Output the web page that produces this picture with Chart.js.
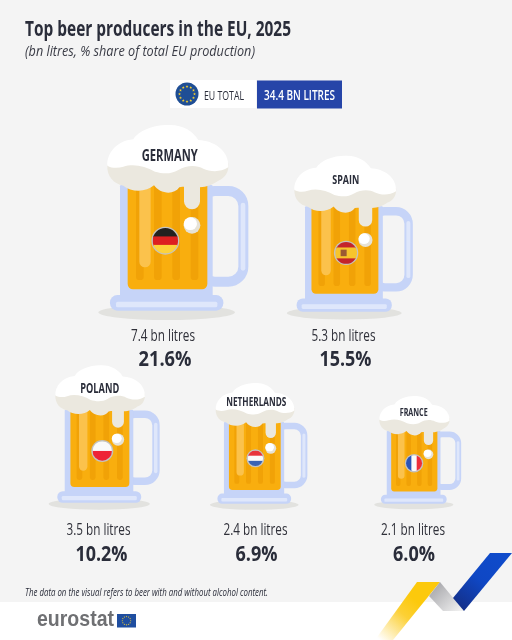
<!DOCTYPE html>
<html><head><meta charset="utf-8">
<style>html,body{margin:0;padding:0;background:#f4f4f4}canvas{display:block}</style>
<script src="https://cdn.jsdelivr.net/npm/chart.js@4/dist/chart.umd.min.js"></script>
</head><body><canvas id="c" width="512" height="640" style="width:512px;height:640px"></canvas>
<script>
// ---- data ----
const categories = ["GERMANY","SPAIN","POLAND","NETHERLANDS","FRANCE"];
const litres = [7.4,5.3,3.5,2.4,2.1];
const shares = [21.6,15.5,10.2,6.9,6.0];
const euTotal = 34.4;
// ---- layout (separate from the data) ----
const slotX = [167,344.5,99.5,254.5,414];
const slotY = [311,312,503,504,504];
const mugScale = [1,.84,.74,.65,.58];
const flagDX = [0,3,4,2,1];
const flagPx = [14,12.2,11,9,9.3];
const nameX = [169.7,345.7,99.7,256.3,413.7];
const nameY = [160.5,184,393,405.7,416];
const nameFont = [16,12.5,14,11.6,10.8];
const nameW = [56,27,39,60,28];
const labelDX = [-4,-1,-1,1,-1];
const labelY = [335,335,529,529,529];
const pctDX = [-2,1,2,2,0];
const pctY = [358,358,553,553,553];
const pctW = [53,52,52,42,42];
const FONT = '"Open Sans",sans-serif';

function star(ctx,x,y,r,col){ctx.fillStyle=col;ctx.beginPath();for(let i=0;i<10;i++){const a=-Math.PI/2+i*Math.PI/5,q=i%2?r*.42:r;ctx.lineTo(x+q*Math.cos(a),y+q*Math.sin(a));}ctx.closePath();ctx.fill();}
function ring(ctx,x,y,R,r){for(let i=0;i<12;i++){const a=i*Math.PI/6;star(ctx,x+R*Math.cos(a),y+R*Math.sin(a),r,'#f5cf2f');}}
function rr(ctx,x,y,w,h,r,col){ctx.fillStyle=col;ctx.beginPath();ctx.roundRect(x,y,w,h,r);ctx.fill();}
function text(ctx,t,x,y,font,col,align,maxW){ctx.font=font;ctx.fillStyle=col;ctx.textAlign=align||'left';ctx.textBaseline='alphabetic';if(maxW)ctx.fillText(t,x,y,maxW);else ctx.fillText(t,x,y);}

function flag(ctx,name,cx,cy,R){
  const r=R-1.3;
  ctx.save();ctx.beginPath();ctx.arc(cx,cy,R,0,7);ctx.fillStyle='#c4c3bf';ctx.fill();
  ctx.beginPath();ctx.arc(cx,cy,r,0,7);ctx.clip();
  const bands=(cols,ws,vert)=>{let p=vert?cx-r:cy-r;cols.forEach((c,i)=>{const d=2*r*ws[i];ctx.fillStyle=c;if(vert)ctx.fillRect(p,cy-r,d+1,2*r);else ctx.fillRect(cx-r,p,2*r,d+1);p+=d;});};
  if(name==='GERMANY')bands(['#23211f','#dd2020','#fdd23a'],[1/3,1/3,1/3]);
  if(name==='SPAIN'){bands(['#c4242b','#f7c52c','#c4242b'],[.25,.5,.25]);ctx.fillStyle='#9b5a33';ctx.fillRect(cx-r*.5,cy-r*.3,r*.55,r*.6);}
  if(name==='POLAND')bands(['#fafafa','#ee2436'],[.5,.5]);
  if(name==='NETHERLANDS')bands(['#e8343c','#fafafa','#3a63b4'],[1/3,1/3,1/3]);
  if(name==='FRANCE')bands(['#2a55b8','#fafafa','#ee2d3a'],[1/3,1/3,1/3],true);
  ctx.restore();
}

function drawMug(ctx,x,y,s){
  const k=s/3;
  ctx.save();ctx.translate(x,y);ctx.scale(k,k);ctx.translate(-231,-573);
  ctx.fillStyle='#e2e2df';ctx.beginPath();ctx.ellipse(230,577,205,23,0,0,7);ctx.fill();
  ctx.strokeStyle='#c6d4f8';ctx.lineWidth=30;ctx.beginPath();ctx.roundRect(330,213,130,272,45);ctx.stroke();
  ctx.strokeStyle='#dfe7fb';ctx.lineWidth=14;ctx.lineCap='round';ctx.beginPath();ctx.moveTo(459,255);ctx.lineTo(459,445);ctx.stroke();
  rr(ctx,90,195,278,340,4,'#c6d4f8');
  rr(ctx,60,525,340,47,22,'#c6d4f8');
  rr(ctx,78,545,304,17,5,'#dfe7fb');
  rr(ctx,113,195,239,313,[0,0,16,16],'#f9ae0e');
  for(const sx of [138,192,247,302])rr(ctx,sx,195,23,285,[0,0,10,10],'#f1a207');
  rr(ctx,148,190,34,252,17,'#fbc24c');
  rr(ctx,282,170,48,98,24,'#ebe8df');
  ctx.fillStyle='#e6e2d6';ctx.beginPath();ctx.arc(306,316,25,0,7);ctx.fill();
  ctx.fillStyle='#ffffff';ctx.beginPath();ctx.ellipse(301,311,20,19,0,0,7);ctx.fill();
  ctx.fillStyle='#ebe8df';ctx.beginPath();ctx.moveTo(52,135);
  ctx.bezierCurveTo(50,170,72,192,100,197);ctx.bezierCurveTo(125,218,170,216,192,196);
  ctx.bezierCurveTo(208,220,250,228,268,202);ctx.bezierCurveTo(300,195,340,215,385,182);
  ctx.bezierCurveTo(405,175,418,155,415,130);ctx.closePath();ctx.fill();
  ctx.fillStyle='#ffffff';ctx.beginPath();ctx.moveTo(52,137);
  ctx.bezierCurveTo(50,100,80,62,130,58);ctx.bezierCurveTo(145,30,200,12,240,15);
  ctx.bezierCurveTo(280,15,310,35,325,60);ctx.bezierCurveTo(370,62,418,90,415,142);
  ctx.bezierCurveTo(390,158,360,155,340,146);ctx.bezierCurveTo(320,135,290,135,265,150);
  ctx.bezierCurveTo(240,165,215,160,195,155);ctx.bezierCurveTo(165,138,130,130,100,140);
  ctx.bezierCurveTo(85,145,65,145,52,137);ctx.closePath();ctx.fill();
  ctx.restore();
}

function ribbon(ctx){
  let g=ctx.createLinearGradient(415,600,380,640);g.addColorStop(0,'#fcc90c');g.addColorStop(.35,'#fcd035');g.addColorStop(1,'#ffffff');
  ctx.fillStyle=g;ctx.beginPath();ctx.moveTo(417,582);ctx.lineTo(440,582);ctx.lineTo(393,640);ctx.lineTo(375,640);ctx.closePath();ctx.fill();
  g=ctx.createLinearGradient(435,585,460,611);g.addColorStop(0,'#a9a9ad');g.addColorStop(1,'#f0f0f0');
  ctx.fillStyle=g;ctx.beginPath();ctx.moveTo(440,582);ctx.lineTo(464,611);ctx.lineTo(443,611);ctx.lineTo(429,596);ctx.closePath();ctx.fill();
  g=ctx.createLinearGradient(458,606,500,553);g.addColorStop(0,'#14308a');g.addColorStop(.5,'#0f47c4');g.addColorStop(1,'#0f4bcb');
  ctx.fillStyle=g;ctx.beginPath();ctx.moveTo(453,598);ctx.lineTo(490,553);ctx.lineTo(512,553);ctx.lineTo(464,611);ctx.closePath();ctx.fill();
}

const infographic={id:'infographic',
 beforeDatasetsDraw(chart){
  const c=chart.ctx;
  c.fillStyle='#f4f4f4';c.fillRect(0,0,512,640);
  c.fillStyle='#ffffff';c.fillRect(0,602,512,38);
  text(c,'Top beer producers in the EU, 2025',25,36,'bold 21.5px '+FONT,'#2a2d3a','left',266);
  text(c,'(bn litres, % share of total EU production)',25,56,'italic 14px '+FONT,'#3a3c46','left',230);
  c.fillStyle='#ffffff';c.fillRect(170,80,86,28);
  c.fillStyle='#2645a8';c.fillRect(257,80.5,85,28);
  c.fillStyle='#1f4e95';c.beginPath();c.arc(187,94,11.5,0,7);c.fill();ring(c,187,94,7.5,1.5);
  text(c,'EU TOTAL',204,100,'13.5px '+FONT,'#2a2d3a','left',40);
  text(c,euTotal+' BN LITRES',264,100,'600 13.5px '+FONT,'#ffffff','left',71);
  text(c,'The data on the visual refers to beer with and without alcohol content.',25,596,'italic 11.5px '+FONT,'#2a2d3a','left',243);
  text(c,'eurostat',37,626,'bold 22px "Liberation Sans",sans-serif','#6f7073','left',77);
  c.fillStyle='#1f4ea0';c.fillRect(117,614,19,13.5);ring(c,126.5,620.7,4.2,.9);
  ribbon(c);
  chart.getDatasetMeta(0).data.forEach((pt,i)=>{
    const s=mugScale[i];
    drawMug(c,pt.x,pt.y,s);
    flag(c,categories[i],pt.x+(226-231)/3*s+flagDX[i],pt.y+(362-573)/3*s,flagPx[i]);
    text(c,categories[i],nameX[i],nameY[i],'bold '+nameFont[i]+'px '+FONT,'#2a2d3a','center',nameW[i]);
    text(c,litres[i].toFixed(1)+' bn litres',pt.x+labelDX[i],labelY[i]+5.5,'16.5px '+FONT,'#2f3039','center',64);
    text(c,shares[i].toFixed(1)+'%',pt.x+pctDX[i],pctY[i]+7.5,'bold 21.5px '+FONT,'#2a2d3a','center',pctW[i]);
  });
 }};

new Chart(document.getElementById('c'),{
 type:'scatter',
 data:{labels:categories,datasets:[{label:'Beer production (bn litres)',data:litres.map((v,i)=>({x:slotX[i],y:slotY[i],v})),pointRadius:0}]},
 options:{responsive:false,animation:false,devicePixelRatio:1,layout:{padding:0},
  plugins:{legend:{display:false},tooltip:{enabled:false}},
  scales:{x:{type:'linear',min:0,max:512,display:false},y:{type:'linear',min:0,max:640,reverse:true,display:false}}},
 plugins:[infographic]});
</script></body></html>
